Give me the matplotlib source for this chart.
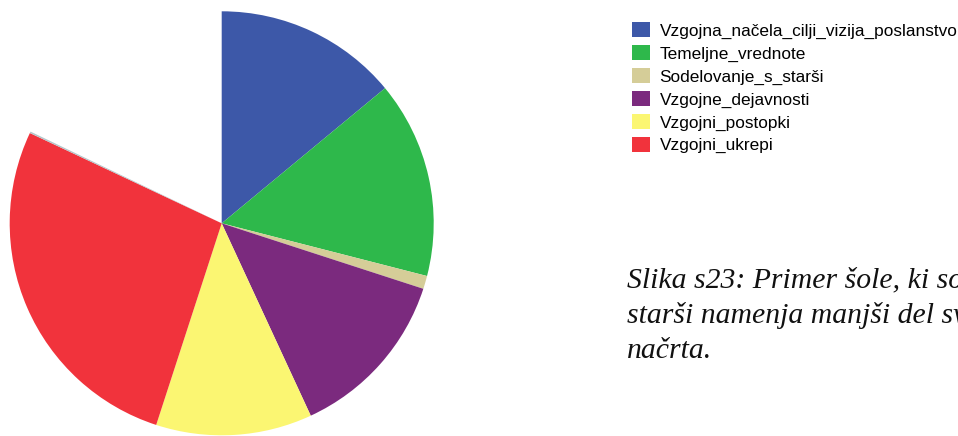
"""Pie chart of school education-plan sections (partial pie, remainder left empty)."""
import matplotlib.pyplot as plt
from matplotlib.patches import Patch

categories = [
    "Vzgojna_načela_cilji_vizija_poslanstvo",
    "Temeljne_vrednote",
    "Sodelovanje_s_starši",
    "Vzgojne_dejavnosti",
    "Vzgojni_postopki",
    "Vzgojni_ukrepi",
]
shares = [14.0, 15.0, 1.0, 13.1, 11.9, 27.0]   # percent of the plan
sliver = 0.12                                    # thin grey edge piece after the last slice
colours = ["#3d58a8", "#2eb84b", "#d5cd98", "#7b2a7e", "#fbf672", "#f1333c"]
caption = [
    "Slika s23: Primer šole, ki sodelovanju s",
    "starši namenja manjši del svojega vzgojnega",
    "načrta.",
]

W, H = 958, 436
fig = plt.figure(figsize=(W / 100, H / 100), dpi=100)

# pie axes: centre ~(221.7, 223.3) px, radius ~212 px
cx, cy, r = 221.7, 223.3, 212.0
ax = fig.add_axes([(cx - r) / W, (H - cy - r) / H, 2 * r / W, 2 * r / H])
ax.pie(
    [v / 100 for v in shares] + [sliver / 100],
    colors=colours + ["#b5c6ca"],
    startangle=90,
    counterclock=False,
    normalize=False,
    radius=1.0,
    wedgeprops=dict(linewidth=0),
)
ax.set_xlim(-1, 1)
ax.set_ylim(-1, 1)
ax.set_aspect("equal")
ax.axis("off")

fs = 12.4
handles = [Patch(facecolor=c, edgecolor="none") for c in colours]
fig.legend(
    handles, categories,
    loc="upper left", bbox_to_anchor=(632 / W, 1 - 22 / H),
    frameon=False, borderpad=0, borderaxespad=0,
    prop={"family": "Liberation Sans", "size": fs},
    handlelength=1.05, handleheight=1.0, handletextpad=0.55, labelspacing=0.36,
)

for i, line in enumerate(caption):
    fig.text(627 / W, 1 - (288 + 35 * i) / H, line,
             family="Liberation Serif", style="italic", fontsize=21.4,
             va="baseline", ha="left", color="#111111")

fig.savefig("out.png", dpi=100, facecolor="white")
